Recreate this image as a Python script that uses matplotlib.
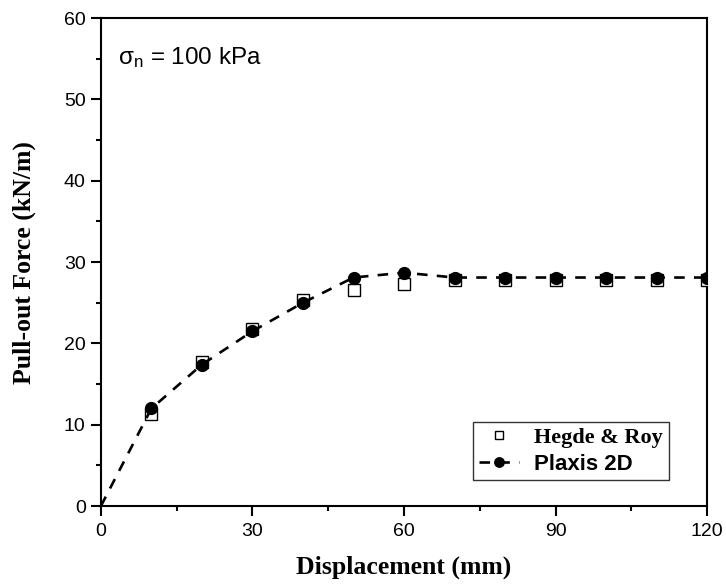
import matplotlib.pyplot as plt
from matplotlib.ticker import MultipleLocator

plt.rcParams['mathtext.fontset'] = 'custom'
plt.rcParams['mathtext.rm'] = 'Liberation Sans'

# data
disp_hr = [10, 20, 30, 40, 50, 60, 70, 80, 90, 100, 110, 120]
force_hr = [11.3, 17.7, 21.8, 25.3, 26.6, 27.3, 27.8, 27.8, 27.8, 27.8, 27.8, 27.8]

disp_px = [0, 10, 20, 30, 40, 50, 60, 70, 80, 90, 100, 110, 120]
force_px = [0, 12.0, 17.4, 21.5, 25.0, 28.1, 28.7, 28.1, 28.1, 28.1, 28.1, 28.1, 28.1]

fig = plt.figure(figsize=(7.26, 5.85), dpi=100)
ax = fig.add_axes([0.139, 0.135, 0.835, 0.834])

ax.plot(disp_hr, force_hr, linestyle='none', marker='s', markersize=8,
        markerfacecolor='white', markeredgecolor='black', markeredgewidth=1.0,
        label='Hegde & Roy', zorder=3)
ax.plot(disp_px, force_px, linestyle=(0, (4, 3.5)), color='black', linewidth=1.9,
        marker='o', markersize=8.5, markerfacecolor='black',
        markevery=list(range(1, len(disp_px))), label='Plaxis 2D', zorder=4)

ax.set_xlim(0, 120)
ax.set_ylim(0, 60)
ax.xaxis.set_major_locator(MultipleLocator(30))
ax.xaxis.set_minor_locator(MultipleLocator(15))
ax.yaxis.set_major_locator(MultipleLocator(10))
ax.yaxis.set_minor_locator(MultipleLocator(5))
ax.tick_params(which='major', direction='out', length=7, width=1.5, labelsize=14, pad=4)
ax.tick_params(which='minor', direction='out', length=3.6, width=1.5)
ax.tick_params(axis='x', which='major', pad=5.5)
for lab in ax.get_xticklabels() + ax.get_yticklabels():
    lab.set_family('Liberation Sans')
for s in ax.spines.values():
    s.set_linewidth(1.5)

ax.set_xlabel('Displacement (mm)', family='Liberation Serif', fontweight='bold',
              fontsize=18.5, labelpad=11)
ax.set_ylabel('Pull-out Force (kN/m)', family='Liberation Serif', fontweight='bold',
              fontsize=18.5, labelpad=20)

ax.text(3.4, 55.2, r'$\mathrm{\sigma_n}$ = 100 kPa', family='Liberation Sans',
        fontsize=17.5, va='center')

leg = ax.legend(loc='upper left', bbox_to_anchor=(0.614, 0.172), borderaxespad=0,
                frameon=True, fancybox=False, edgecolor='black', handlelength=1.8,
                borderpad=0.25, labelspacing=0.25, handletextpad=0.7, fontsize=16,
                markerscale=0.8)
leg.get_frame().set_linewidth(1.0)
t1, t2 = leg.get_texts()
t1.set_family('Liberation Serif')
t1.set_fontweight('bold')
t2.set_family('Liberation Sans')
t2.set_fontweight('bold')

fig.savefig('out.png', dpi=100)
